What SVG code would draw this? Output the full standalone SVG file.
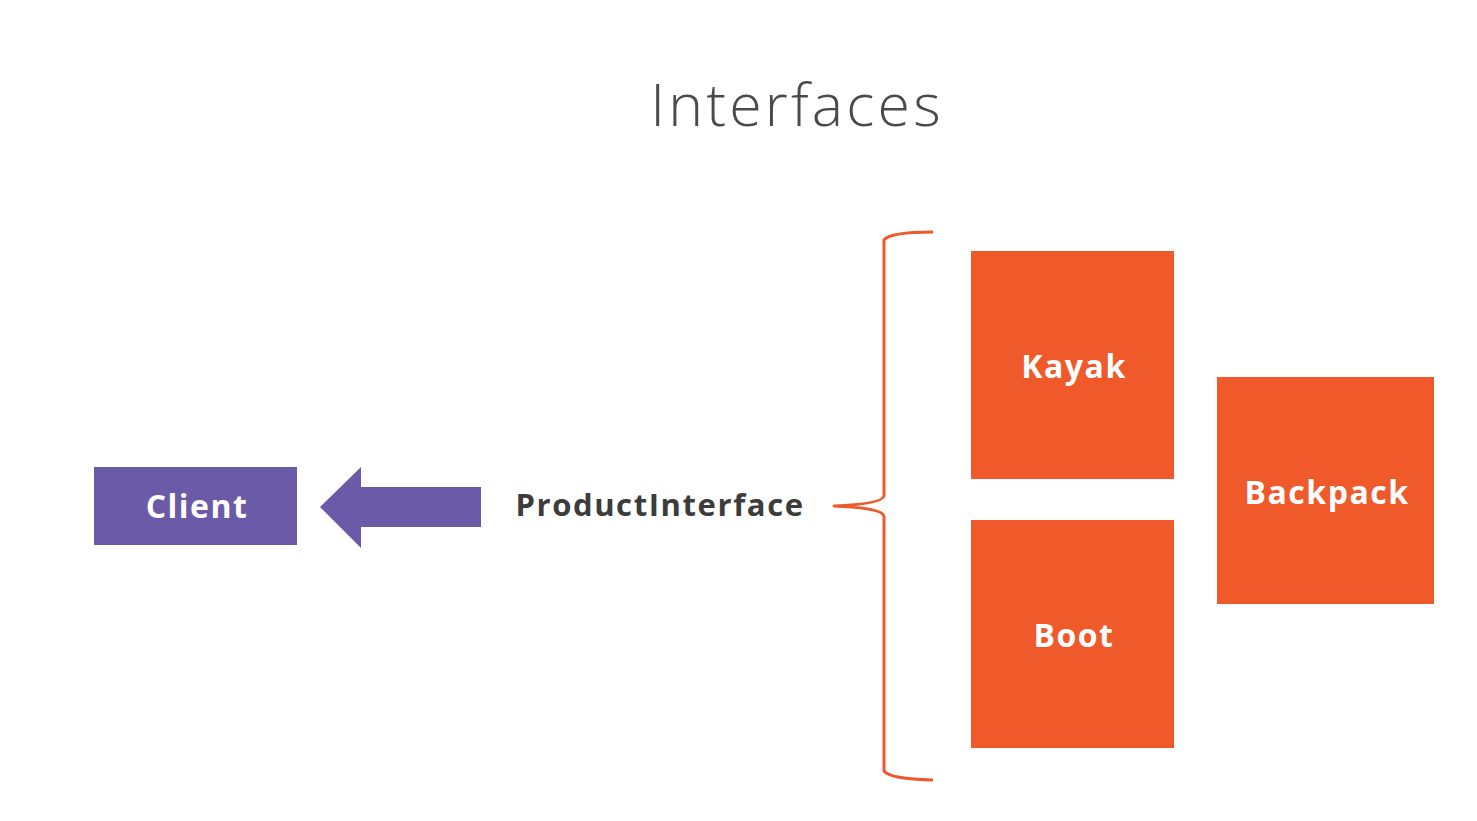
<svg xmlns="http://www.w3.org/2000/svg" width="1477" height="821" viewBox="0 0 1477 821">
<style>
.box{fill:#f05a2a}
.lbl{font-family:"Open Sans","Liberation Sans",sans-serif;font-weight:700;font-size:32px;letter-spacing:1.5px;fill:#ffffff;text-anchor:middle}
</style>
<rect width="1477" height="821" fill="#ffffff"/>
<text x="797" y="126" font-family="'Open Sans','Liberation Sans',sans-serif" font-weight="300" font-size="59" letter-spacing="3.2" fill="#4a4a4a" text-anchor="middle">Interfaces</text>
<g id="client">
<rect x="94" y="467" width="203" height="78" fill="#6a5aa8"/>
<text x="197" y="518" class="lbl">Client</text>
</g>
<g id="productinterface">
<text x="660" y="516" font-family="'Open Sans','Liberation Sans',sans-serif" font-weight="700" font-size="31" letter-spacing="1.6" fill="#3c3c3c" text-anchor="middle">ProductInterface</text>
</g>
<g id="kayak">
<rect class="box" x="971" y="251" width="203" height="228"/>
<text x="1074" y="378" class="lbl">Kayak</text>
</g>
<g id="boot">
<rect class="box" x="971" y="520" width="203" height="228"/>
<text x="1074" y="647" class="lbl">Boot</text>
</g>
<g id="backpack">
<rect class="box" x="1217" y="377" width="217" height="227"/>
<text x="1327" y="504" class="lbl">Backpack</text>
</g>
<g id="connectors">
<polygon points="320,507 361,467 361,487 481,487 481,527 361,527 361,548" fill="#6a5aa8"/>
<path d="M933,232 Q890,232 884,240 L884,496 Q882,504 834,506 Q882,508 884,516 L884,771 Q890,779 933,780" fill="none" stroke="#ec5a2e" stroke-width="3" stroke-linejoin="round"/>
</g>
</svg>
